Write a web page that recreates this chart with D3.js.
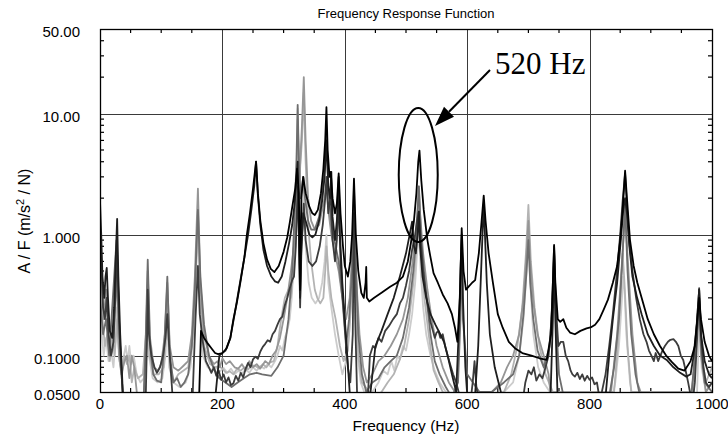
<!DOCTYPE html>
<html>
<head>
<meta charset="utf-8">
<script src="https://cdn.jsdelivr.net/npm/d3@7"></script>
<style>
  body { margin: 0; background: #fff; }
  svg { display: block; }
  text { font-family: "Liberation Sans", Arial, sans-serif; fill: #000; }
</style>
</head>
<body>
<div id="chart"></div>
<script>
// tick labels
var xTicks = [0, 200, 400, 600, 800, 1000];
var yTicks = [50, 10, 1, 0.1, 0.05];
var yTickLabels = ['50.00', '10.00', '1.000', '0.1000', '0.0500'];

// FRF magnitude curves, [frequency Hz, A/F]
var s1 = [[161,0.03],[165,0.16],[170,0.14],[175,0.128],[182,0.115],[188,0.105],[193,0.103],[200,0.105],[207,0.115],[213,0.14],[218,0.2],[224,0.28],[230,0.42],[236,0.65],[240,1.0],[245,1.5],[250,2.4],[255,4.0],[258,2.2],[262,1.3],[267,0.85],[273,0.62],[279,0.52],[285,0.49],[292,0.55],[300,0.72],[306,0.95],[310,1.25],[315,1.8],[319,2.4],[322,3.5],[325,2.2],[327,0.35],[329,2.0],[332,3.0],[336,2.2],[342,1.7],[347,1.5],[351,1.45],[356,1.6],[361,2.2],[365,3.5],[368,6],[370,11.3],[372,5],[375,3.0],[377,3.3],[380,2],[384,1.5],[387,1.8],[390,3.2],[393,1.5],[397,0.8],[400,0.55],[405,0.45],[409,0.6],[412,1.0],[415,2.9],[418,1.0],[422,0.5],[427,0.33],[431,0.3],[434,0.4],[435,0.54],[436,0.3],[440,0.28],[448,0.3],[460,0.33],[474,0.37],[485,0.4],[495,0.45],[503,0.6],[508,0.85],[513,1.3],[517,2.2],[520,4.0],[522,4.94],[525,2.8],[529,1.6],[535,0.9],[540,0.65],[545,0.48],[552,0.4],[560,0.32],[568,0.27],[575,0.22],[580,0.17],[584,0.13],[588,0.3],[591,1.13],[594,0.5],[598,0.35],[602,0.37],[608,0.4],[613,0.42],[619,0.7],[623,1.2],[627,2.1],[630,1.3],[635,0.7],[642,0.4],[650,0.22],[658,0.17],[668,0.13],[678,0.115],[690,0.105],[705,0.1],[718,0.095],[730,0.092],[737,0.15],[740,0.4],[742,0.82],[744,0.4],[748,0.2],[752,0.19],[757,0.2],[762,0.17],[768,0.155],[776,0.15],[785,0.16],[795,0.168],[803,0.172],[809,0.18],[816,0.2],[823,0.24],[830,0.29],[838,0.4],[845,0.55],[850,0.9],[854,1.6],[858,3.37],[861,2.0],[866,0.9],[872,0.55],[878,0.4],[885,0.3],[895,0.2],[905,0.15],[915,0.12],[925,0.1],[935,0.088],[945,0.078],[955,0.075],[965,0.09],[972,0.12],[976,0.2],[979,0.3],[982,0.2],[988,0.13],[995,0.1],[1000,0.09]];

var s2 = [[0,1.9],[2,1.0],[4,0.45],[7,0.3],[9,0.45],[11,0.53],[13,0.3],[16,0.16],[20,0.14],[23,0.25],[26,0.7],[28,1.35],[30,0.45],[33,0.15],[36,0.07],[39,0.03],[185,0.03],[195,0.1],[205,0.11],[213,0.14],[220,0.22],[228,0.38],[236,0.65],[242,1.0],[248,1.7],[252,2.5],[255,4.0],[258,2.1],[262,1.2],[267,0.75],[273,0.55],[280,0.45],[286,0.41],[291,0.40],[297,0.45],[303,0.6],[309,0.85],[314,1.2],[318,1.8],[321,2.8],[323,4],[325,1.0],[327,0.3],[329,0.8],[332,1.5],[336,1.3],[342,1.0],[347,0.95],[352,1.0],[358,1.3],[363,1.9],[367,3.0],[370,6],[373,2.5],[376,2.0],[378,3.3],[380,1.4],[384,0.9],[387,1.3],[390,3.0],[392,1.0],[396,0.4],[400,0.2],[404,0.1],[408,0.05],[411,0.03],[440,0.04],[450,0.12],[460,0.16],[470,0.22],[480,0.3],[490,0.45],[500,0.7],[506,1.0],[510,1.28],[513,0.8],[516,0.7],[519,1.0],[521,1.55],[523,0.8],[527,0.45],[533,0.3],[540,0.22],[548,0.18],[556,0.15],[562,0.13],[568,0.1],[575,0.07],[582,0.05],[587,0.2],[589,0.5],[591,1.0],[593,0.3],[597,0.08],[601,0.04],[612,0.04],[618,0.12],[622,0.4],[625,1.0],[627,1.8],[629,1.0],[632,0.4],[637,0.15],[645,0.08],[655,0.05],[665,0.03],[735,0.03],[740,0.2],[742,0.75],[744,0.2],[748,0.04],[825,0.04],[832,0.1],[838,0.2],[845,0.4],[851,0.9],[855,1.6],[858,2.0],[861,1.5],[865,0.8],[870,0.45],[877,0.31],[885,0.22],[895,0.15],[905,0.12],[915,0.1],[926,0.092],[937,0.08],[948,0.072],[958,0.067],[965,0.07],[970,0.1],[975,0.18],[979,0.35],[982,0.15],[988,0.09],[995,0.07],[1000,0.065]];

var s3 = [[0,1.1],[2,0.6],[5,0.25],[8,0.2],[11,0.3],[14,0.15],[18,0.1],[22,0.13],[25,0.3],[28,0.75],[31,0.2],[34,0.09],[37,0.05],[40,0.03],[74,0.03],[77,0.15],[78,0.35],[80,0.15],[84,0.1],[89,0.08],[93,0.072],[98,0.08],[103,0.1],[107,0.14],[110,0.22],[113,0.12],[117,0.06],[121,0.03],[150,0.03],[156,0.2],[160,0.55],[163,0.22],[168,0.13],[173,0.09],[178,0.08],[182,0.072],[186,0.08],[190,0.068],[194,0.075],[198,0.063],[202,0.07],[206,0.06],[210,0.066],[214,0.057],[218,0.059],[222,0.068],[226,0.062],[230,0.072],[234,0.066],[238,0.078],[242,0.087],[246,0.08],[250,0.093],[254,0.098],[258,0.094],[262,0.108],[266,0.118],[270,0.125],[274,0.134],[278,0.13],[282,0.15],[286,0.16],[290,0.18],[294,0.2],[298,0.21],[302,0.26],[306,0.3],[310,0.36],[314,0.42],[317,0.45],[320,0.8],[323,2.5],[325,1.0],[327,0.25],[329,0.7],[333,1.8],[336,0.9],[341,0.6],[347,0.55],[353,0.6],[359,0.8],[364,1.2],[368,2.0],[370,3.0],[373,1.5],[377,2.2],[380,0.9],[384,0.6],[387,0.9],[390,2.0],[393,0.6],[397,0.28],[401,0.15],[405,0.08],[409,0.06],[413,0.15],[415,1.5],[417,0.2],[420,0.05],[424,0.03],[436,0.03],[441,0.1],[446,0.12],[450,0.115],[455,0.14],[460,0.13],[466,0.16],[472,0.175],[479,0.2],[485,0.22],[490,0.27],[495,0.3],[500,0.38],[505,0.5],[510,0.75],[515,1.0],[518,1.3],[521,1.55],[524,0.9],[528,0.5],[532,0.35],[536,0.25],[540,0.19],[544,0.16],[547,0.14],[550,0.155],[553,0.16],[556,0.14],[560,0.15],[564,0.12],[568,0.1],[572,0.085],[577,0.07],[582,0.06],[586,0.05],[590,0.04],[605,0.04],[609,0.06],[612,0.09],[615,0.055],[620,0.04],[690,0.04],[695,0.06],[700,0.075],[705,0.07],[709,0.08],[713,0.062],[718,0.07],[723,0.065],[728,0.08],[733,0.1],[738,0.2],[742,0.8],[745,0.25],[749,0.12],[753,0.13],[757,0.13],[761,0.1],[765,0.09],[769,0.075],[772,0.07],[776,0.067],[780,0.072],[784,0.064],[788,0.07],[792,0.062],[796,0.068],[800,0.063],[804,0.066],[808,0.058],[812,0.06],[816,0.045],[820,0.05],[826,0.07],[832,0.12],[838,0.22],[844,0.45],[850,1.0],[854,1.9],[858,3.2],[861,1.7],[865,0.85],[870,0.5],[876,0.3],[882,0.2],[888,0.15],[893,0.13],[897,0.11],[901,0.1],[905,0.09],[908,0.105],[912,0.09],[915,0.098],[919,0.11],[923,0.12],[928,0.13],[932,0.135],[937,0.137],[941,0.13],[945,0.12],[949,0.1],[953,0.092],[957,0.075],[961,0.06],[964,0.05],[968,0.04],[972,0.06],[976,0.15],[979,0.36],[982,0.15],[986,0.08],[990,0.06],[995,0.055],[1000,0.06]];

var s4 = [[0,0.3],[5,0.15],[10,0.2],[15,0.1],[20,0.25],[27,0.9],[32,0.15],[36,0.06],[40,0.03],[70,0.03],[74,0.1],[78,0.62],[82,0.12],[87,0.07],[93,0.062],[100,0.06],[105,0.12],[110,0.45],[114,0.1],[120,0.06],[126,0.065],[132,0.055],[138,0.06],[144,0.07],[150,0.12],[155,0.35],[160,1.6],[164,0.45],[170,0.18],[178,0.1],[185,0.08],[195,0.065],[205,0.06],[215,0.055],[225,0.06],[235,0.065],[245,0.07],[256,0.072],[265,0.07],[280,0.068],[290,0.08],[300,0.1],[308,0.2],[314,0.5],[318,1.5],[321,4],[323,11.8],[325,4],[328,2],[332,3],[335,2],[340,1.3],[345,1.1],[351,1.1],[358,1.4],[363,2.2],[367,3.5],[370,7],[373,2.5],[378,1.2],[385,0.8],[390,0.6],[396,0.3],[402,0.12],[407,0.2],[412,0.5],[415,2.5],[418,0.6],[422,0.15],[428,0.07],[435,0.05],[445,0.06],[455,0.065],[465,0.08],[475,0.09],[485,0.1],[495,0.14],[505,0.25],[512,0.5],[517,1.0],[521,2.5],[525,0.9],[532,0.35],[540,0.15],[547,0.09],[555,0.07],[565,0.055],[575,0.045],[585,0.06],[589,0.2],[591,0.9],[593,0.2],[600,0.07],[620,0.05],[640,0.05],[660,0.06],[675,0.07],[685,0.1],[692,0.22],[697,0.5],[700,0.9],[703,0.4],[708,0.2],[715,0.11],[725,0.08],[735,0.12],[740,0.35],[742,0.7],[745,0.2],[750,0.07],[760,0.04],[830,0.04],[840,0.08],[848,0.2],[854,0.7],[858,1.8],[862,0.5],[868,0.15],[875,0.07],[885,0.04],[965,0.04],[972,0.1],[977,0.25],[979,0.35],[982,0.12],[988,0.06],[1000,0.05]];

var s5 = [[0,1.2],[3,0.5],[6,0.2],[10,0.35],[14,0.12],[18,0.1],[22,0.12],[27,0.5],[31,0.1],[35,0.07],[40,0.09],[44,0.1],[48,0.065],[52,0.1],[56,0.08],[62,0.04],[72,0.05],[76,0.2],[78,0.5],[81,0.15],[88,0.08],[95,0.075],[100,0.085],[106,0.15],[110,0.4],[114,0.12],[120,0.08],[128,0.075],[136,0.082],[144,0.09],[150,0.15],[155,0.45],[160,2.4],[164,0.4],[170,0.15],[178,0.1],[186,0.085],[192,0.09],[196,0.08],[200,0.095],[206,0.085],[212,0.09],[220,0.08],[226,0.078],[232,0.085],[238,0.075],[244,0.09],[250,0.08],[256,0.085],[262,0.078],[270,0.09],[276,0.085],[282,0.1],[288,0.11],[294,0.14],[300,0.2],[306,0.3],[312,0.5],[318,0.9],[322,1.5],[326,3],[330,8],[333,20],[336,6],[340,2],[345,1.3],[351,1.1],[358,1.2],[363,1.6],[367,2.0],[370,2.6],[373,1.6],[378,1.0],[384,0.7],[390,0.5],[396,0.3],[402,0.2],[408,0.3],[412,0.7],[415,2.0],[418,0.5],[424,0.15],[430,0.08],[436,0.06],[445,0.07],[455,0.09],[465,0.1],[475,0.12],[485,0.15],[495,0.2],[503,0.3],[510,0.55],[515,0.9],[519,1.6],[521,2.5],[523,1.5],[528,0.7],[535,0.35],[542,0.2],[550,0.12],[560,0.08],[570,0.06],[580,0.05],[590,0.04],[640,0.05],[655,0.06],[665,0.08],[675,0.1],[685,0.15],[692,0.3],[697,0.7],[700,1.3],[703,0.6],[708,0.28],[715,0.15],[725,0.1],[733,0.07],[740,0.03],[835,0.05],[845,0.15],[852,0.5],[858,1.5],[864,0.45],[870,0.15],[878,0.06],[890,0.04],[965,0.04],[972,0.09],[977,0.2],[979,0.3],[982,0.1],[990,0.05],[1000,0.06]];

var s6 = [[0,0.5],[4,0.2],[8,0.12],[12,0.15],[16,0.09],[20,0.14],[24,0.1],[28,0.2],[32,0.09],[36,0.07],[40,0.1],[44,0.085],[48,0.1],[52,0.06],[56,0.08],[62,0.065],[70,0.07],[75,0.15],[78,0.35],[81,0.1],[88,0.07],[96,0.07],[104,0.08],[108,0.15],[110,0.3],[113,0.1],[120,0.06],[128,0.07],[136,0.075],[144,0.08],[150,0.12],[155,0.3],[160,1.5],[164,0.3],[170,0.12],[180,0.085],[188,0.08],[194,0.082],[200,0.078],[206,0.072],[212,0.074],[218,0.07],[224,0.078],[230,0.075],[236,0.08],[242,0.077],[248,0.083],[254,0.082],[260,0.078],[266,0.085],[272,0.08],[278,0.088],[284,0.09],[290,0.12],[296,0.2],[302,0.3],[308,0.35],[312,0.3],[316,0.5],[320,1.5],[323,9],[326,3],[330,6],[333,15],[336,4],[340,1.2],[345,0.6],[351,0.35],[355,0.3],[360,0.27],[365,0.3],[368,0.5],[370,0.8],[373,0.5],[378,0.3],[385,0.2],[392,0.12],[398,0.09],[405,0.11],[410,0.25],[413,0.6],[415,1.5],[417,0.4],[422,0.1],[428,0.06],[440,0.05],[450,0.045],[460,0.05],[470,0.06],[480,0.07],[490,0.093],[497,0.12],[505,0.2],[512,0.4],[517,0.8],[521,1.7],[524,0.8],[530,0.3],[537,0.15],[545,0.076],[553,0.06],[560,0.05],[580,0.04],[660,0.05],[672,0.07],[682,0.12],[690,0.25],[696,0.7],[700,1.76],[704,0.6],[710,0.25],[718,0.12],[728,0.07],[740,0.05],[840,0.05],[846,0.12],[851,0.35],[854,0.7],[857,0.4],[862,0.12],[868,0.05],[970,0.05],[975,0.15],[979,0.25],[983,0.1],[990,0.06],[1000,0.08]];

var s7 = [[0,0.35],[3,0.15],[6,0.1],[10,0.14],[14,0.09],[18,0.11],[22,0.08],[26,0.15],[28,0.25],[31,0.1],[35,0.08],[39,0.1],[42,0.12],[45,0.09],[48,0.12],[51,0.085],[55,0.1],[60,0.07],[66,0.06],[72,0.065],[76,0.12],[78,0.25],[80,0.1],[86,0.065],[94,0.06],[102,0.065],[107,0.1],[110,0.2],[113,0.08],[120,0.06],[130,0.055],[140,0.06],[148,0.08],[154,0.2],[157,0.5],[160,1.2],[163,0.3],[168,0.1],[176,0.08],[184,0.075],[190,0.08],[196,0.074],[202,0.079],[208,0.072],[214,0.078],[220,0.07],[226,0.075],[232,0.071],[238,0.077],[244,0.072],[250,0.08],[256,0.075],[262,0.082],[268,0.078],[274,0.085],[280,0.08],[286,0.09],[290,0.1],[294,0.12],[298,0.11],[302,0.14],[306,0.16],[310,0.2],[313,0.29],[316,0.5],[319,1.2],[321,3],[323,11],[325,2],[328,0.8],[331,1.2],[333,3],[336,0.8],[341,0.4],[346,0.3],[352,0.27],[358,0.3],[363,0.4],[367,0.6],[370,1.0],[373,0.4],[378,0.25],[384,0.15],[390,0.1],[396,0.07],[402,0.09],[407,0.15],[411,0.35],[413,0.7],[415,1.3],[417,0.3],[421,0.1],[426,0.06],[435,0.045],[445,0.05],[455,0.06],[463,0.075],[470,0.07],[476,0.09],[481,0.075],[486,0.1],[490,0.093],[495,0.12],[500,0.11],[505,0.15],[510,0.22],[515,0.4],[518,0.7],[521,1.1],[524,0.5],[528,0.25],[533,0.15],[540,0.1],[547,0.075],[555,0.06],[565,0.05],[580,0.045],[600,0.04],[640,0.04],[660,0.05],[675,0.06],[685,0.1],[692,0.2],[697,0.5],[700,1.0],[703,0.4],[708,0.15],[716,0.08],[725,0.06],[735,0.05],[745,0.045],[750,0.04],[835,0.04],[842,0.06],[848,0.12],[852,0.25],[855,0.45],[857,0.35],[860,0.15],[866,0.06],[872,0.04],[975,0.04],[978,0.12],[980,0.2],[983,0.08],[990,0.05],[1000,0.06]];

// lightest first so the dark curves sit on top
var seriesList = [s7, s6, s5, s4, s3, s2, s1];
var seriesColors = ['#cccccc', '#b3b3b3', '#969696', '#6e6e6e', '#3c3c3c', '#1e1e1e', '#000000'];

var width = 728, height = 441;
var plotL = 100, plotR = 712, plotT = 29, plotB = 392;

var x = d3.scaleLinear().domain([0, 1000]).range([plotL, plotR]);
var y = d3.scaleLog().domain([0.05, 50]).range([plotB, plotT]);

var svg = d3.select('#chart').append('svg')
    .attr('width', width)
    .attr('height', height);

svg.append('clipPath').attr('id', 'plotClip')
  .append('rect')
    .attr('x', plotL).attr('y', plotT)
    .attr('width', plotR - plotL).attr('height', plotB - plotT);

// grid
var grid = svg.append('g').attr('stroke', '#3a3a3a').attr('stroke-width', 1);
[200, 400, 600, 800].forEach(function(v) {
  grid.append('line')
    .attr('x1', Math.round(x(v)) + 0.5).attr('x2', Math.round(x(v)) + 0.5)
    .attr('y1', plotT).attr('y2', plotB);
});
[0.1, 1, 10].forEach(function(v) {
  grid.append('line')
    .attr('x1', plotL).attr('x2', plotR)
    .attr('y1', Math.round(y(v)) + 0.5).attr('y2', Math.round(y(v)) + 0.5);
});

// minor ticks, all pointing into the plot
var ticks = svg.append('g').attr('stroke', '#000').attr('stroke-width', 1.2);
d3.range(50, 1000, 50).filter(function(v) { return v % 200 !== 0; }).forEach(function(v) {
  ticks.append('line').attr('x1', x(v)).attr('x2', x(v)).attr('y1', plotT).attr('y2', plotT + 4);
  ticks.append('line').attr('x1', x(v)).attr('x2', x(v)).attr('y1', plotB).attr('y2', plotB - 4);
});
var minorY = [];
[0.01, 0.1, 1, 10].forEach(function(d) {
  for (var k = 2; k <= 9; k++) {
    var v = d * k;
    if (v > 0.05 && v < 50 && v !== 0.1 && v !== 1 && v !== 10) minorY.push(v);
  }
});
minorY.forEach(function(v) {
  ticks.append('line').attr('x1', plotL).attr('x2', plotL + 4).attr('y1', y(v)).attr('y2', y(v));
  ticks.append('line').attr('x1', plotR).attr('x2', plotR - 4).attr('y1', y(v)).attr('y2', y(v));
});

// curves
var line = d3.line()
    .x(function(d) { return x(d[0]); })
    .y(function(d) { return y(Math.max(d[1], 0.02)); });

svg.append('g').attr('clip-path', 'url(#plotClip)')
  .selectAll('path').data(seriesList)
  .enter().append('path')
    .attr('d', line)
    .attr('fill', 'none')
    .attr('stroke', function(d, i) { return seriesColors[i]; })
    .attr('stroke-width', 1.8)
    .attr('stroke-linejoin', 'round');

// frame
svg.append('rect')
  .attr('x', plotL + 0.5).attr('y', plotT + 0.5)
  .attr('width', plotR - plotL).attr('height', plotB - plotT)
  .attr('fill', 'none').attr('stroke', '#000').attr('stroke-width', 1.3);

// tick labels
svg.append('g').selectAll('text').data(xTicks)
  .enter().append('text')
    .attr('x', function(d) { return x(d); })
    .attr('y', 409)
    .attr('text-anchor', 'middle')
    .style('font-size', '15px')
    .text(function(d) { return d; });

svg.append('g').selectAll('text').data(yTicks)
  .enter().append('text')
    .attr('x', 80)
    .attr('y', function(d) { return y(d) + 8; })
    .attr('text-anchor', 'end')
    .style('font-size', '15px')
    .text(function(d, i) { return yTickLabels[i]; });

// titles
svg.append('text')
  .attr('x', 406).attr('y', 18)
  .attr('text-anchor', 'middle')
  .style('font-size', '13px')
  .text('Frequency Response Function');

svg.append('text')
  .attr('x', 406).attr('y', 431)
  .attr('text-anchor', 'middle')
  .style('font-size', '15.5px')
  .text('Frequency (Hz)');

var yl = svg.append('text')
  .attr('transform', 'translate(30,221) rotate(-90)')
  .attr('text-anchor', 'middle')
  .style('font-size', '16px');
yl.append('tspan').text('A / F (m/s');
yl.append('tspan').attr('dy', -6).style('font-size', '11px').text('2');
yl.append('tspan').attr('dy', 6).text(' / N)');

// 520 Hz annotation
var note = svg.append('g');
note.append('ellipse')
  .attr('cx', x(520)).attr('cy', 175)
  .attr('rx', 19.5).attr('ry', 67)
  .attr('fill', 'none').attr('stroke', '#000').attr('stroke-width', 2);

var tail = [490, 70], tip = [435, 126];
var ang = Math.atan2(tip[1] - tail[1], tip[0] - tail[0]);
var headLen = 20, headHalf = 7;
var base = [tip[0] - headLen * Math.cos(ang), tip[1] - headLen * Math.sin(ang)];
note.append('line')
  .attr('x1', tail[0]).attr('y1', tail[1])
  .attr('x2', base[0]).attr('y2', base[1])
  .attr('stroke', '#000').attr('stroke-width', 2);
note.append('path')
  .attr('d', 'M' + tip[0] + ',' + tip[1] +
    'L' + (base[0] + headHalf * Math.sin(ang)) + ',' + (base[1] - headHalf * Math.cos(ang)) +
    'L' + (base[0] - headHalf * Math.sin(ang)) + ',' + (base[1] + headHalf * Math.cos(ang)) + 'Z')
  .attr('fill', '#000');

note.append('text')
  .attr('x', 495).attr('y', 74)
  .style('font-family', '"Liberation Serif", "Times New Roman", serif')
  .style('font-size', '31px')
  .text('520 Hz');
</script>
</body>
</html>
